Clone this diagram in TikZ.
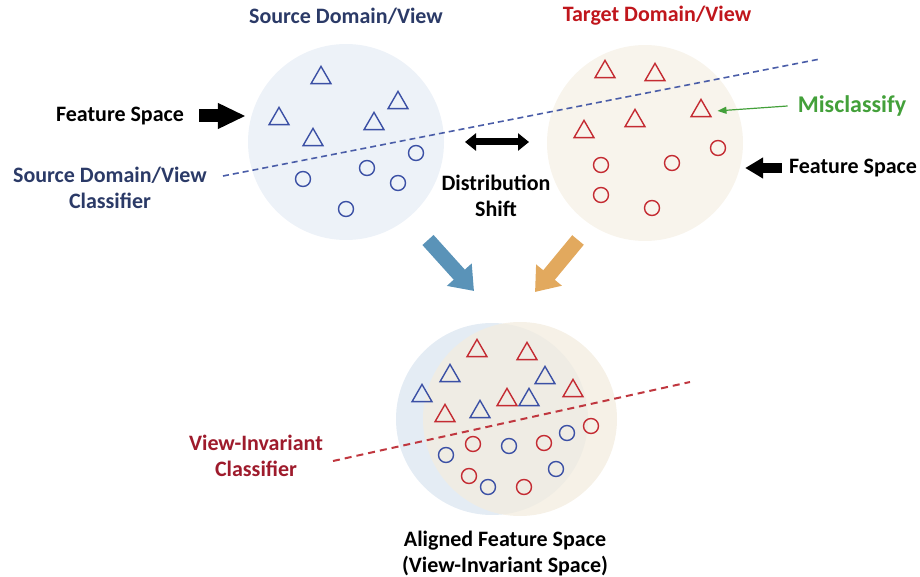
\documentclass[tikz,border=0pt]{standalone}
\usepackage{fontspec}
\setmainfont{Carlito}
\usetikzlibrary{shapes.geometric,arrows.meta}
\definecolor{navy}{HTML}{2B3A67}
\definecolor{tred}{HTML}{C0161C}
\definecolor{vred}{HTML}{9E1B2C}
\definecolor{mblue}{HTML}{3B50A5}
\definecolor{mred}{HTML}{C42B32}
\definecolor{mgreen}{HTML}{43A03A}
\definecolor{srcfill}{HTML}{EDF2F8}
\definecolor{tgtfill}{HTML}{F8F4EC}
\definecolor{botblue}{HTML}{E4ECF4}
\definecolor{bottan}{HTML}{F3ECDF}
\definecolor{arrblue}{HTML}{5A93B8}
\definecolor{arrtan}{HTML}{E2A95E}
\definecolor{dblue}{HTML}{4A5DA8}
\definecolor{dred}{HTML}{C0373F}
\begin{document}
\begin{tikzpicture}[x=1pt,y=-1pt,
  font=\fontsize{22}{26}\selectfont\bfseries,
  tri/.style={regular polygon, regular polygon sides=3, minimum size=23pt,
    inner sep=0pt, draw, line width=1.4pt, yshift=-2.9pt},
  btri/.style={tri, draw=mblue},
  rtri/.style={tri, draw=mred},
  dotmark/.style={circle, minimum size=15pt, inner sep=0pt, draw, line width=1.4pt},
  bcirc/.style={dotmark, draw=mblue},
  rcirc/.style={dotmark, draw=mred},
  space/.style={circle, inner sep=0pt, draw=none},
  lbl/.style={align=center, inner sep=0pt},
  blockarrow/.style={line width=#1, draw=black},
]
\useasboundingbox (0,0) rectangle (920,577);

% feature spaces
\node[space, fill=srcfill, minimum size=196pt] (src) at (346,142) {};
\node[space, fill=tgtfill, minimum size=196pt] (tgt) at (645,143) {};
\node[space, fill=botblue, minimum size=192pt] (botb) at (492,419) {};
\node[space, fill=bottan, fill opacity=0.75, minimum size=194pt] (bott) at (520,419) {};

% titles
\node[lbl, text=navy] (t1) at (346,16) {Source Domain/View};
\node[lbl, text=tred] (t2) at (657,16) {Target Domain/View};

% source markers
\foreach \x/\y [count=\i] in {321/75,279/116,398/100,374/121,313/137}
  \node[btri] (st\i) at (\x,\y) {};
\foreach \x/\y [count=\i] in {303/179,367/168,416/153,398/183,346/209}
  \node[bcirc] (sc\i) at (\x,\y) {};
% target markers
\foreach \x/\y [count=\i] in {605/69,655/72,701/108,635/118,584/129}
  \node[rtri] (tt\i) at (\x,\y) {};
\foreach \x/\y [count=\i] in {718/148,672/163,601/165,601/195,652/208}
  \node[rcirc] (tc\i) at (\x,\y) {};
% aligned markers
\foreach \x/\y [count=\i] in {477/348,527/351,573/388,507/397,445/413}
  \node[rtri] (art\i) at (\x,\y) {};
\foreach \x/\y [count=\i] in {450/373,422/393,545/375,529/397,480/409}
  \node[btri] (abt\i) at (\x,\y) {};
\foreach \x/\y [count=\i] in {473/444,544/443,591/426,469/476,524/487}
  \node[rcirc] (arc\i) at (\x,\y) {};
\foreach \x/\y [count=\i] in {446/455,509/446,567/433,556/469,488/487}
  \node[bcirc] (abc\i) at (\x,\y) {};

% classifiers
\coordinate (sl1) at (223,176);
\coordinate (sl2) at (820,59);
\draw[dblue, line width=1.6pt, dash pattern=on 6pt off 4pt] (sl1) -- (sl2);
\coordinate (vl1) at (333,461);
\coordinate (vl2) at (690,382);
\draw[dred, line width=2pt, dash pattern=on 7pt off 5pt] (vl1) -- (vl2);

% labels
\node[lbl] (fs1) at (120,116) {Feature Space};
\node[lbl] (fs2) at (853,168) {Feature Space};
\node[lbl, text=navy] (sclf) at (110,188) {Source Domain/View\\Classifier};
\node[lbl, text=mgreen, font=\fontsize{24}{26}\selectfont\bfseries] (mis) at (852,106) {Misclassify};
\node[lbl] (dist) at (496,196) {Distribution\\Shift};
\node[lbl, text=vred] (vic) at (256,456) {View-Invariant\\Classifier};
\node[lbl] (alg) at (505,554) {Aligned Feature Space\\(View-Invariant Space)};

% arrows
\draw[blockarrow=13pt, -{Triangle[length=28pt,width=24pt]}]
  ([xshift=15pt]fs1.east) -- ([xshift=-2pt]fs1.east -| src.west);
\draw[blockarrow=10pt, -{Triangle[length=18pt,width=20pt]}]
  ([xshift=-7pt]fs2.west) -- ([xshift=2pt]fs2.west -| tgt.east);
\coordinate (d1) at (465,142);
\coordinate (d2) at (529,142);
\draw[blockarrow=7pt, {Triangle[length=11pt,width=17pt]}-{Triangle[length=11pt,width=17pt]}]
  (d1) -- (d2);
\draw[mgreen, line width=1.2pt, -{Triangle[length=9pt,width=7pt]}]
  ([xshift=-10pt]mis.west) -- ([xshift=9pt]tt3.east);

\coordinate (ba1) at (428,240);
\coordinate (ba2) at (474,291);
\draw[arrblue, line width=15pt, -{Triangle[length=22pt,width=32pt]}] (ba1) -- (ba2);
\coordinate (ta1) at (578,240);
\coordinate (ta2) at (535,292);
\draw[arrtan, line width=15pt, -{Triangle[length=22pt,width=32pt]}] (ta1) -- (ta2);
\end{tikzpicture}
\end{document}
